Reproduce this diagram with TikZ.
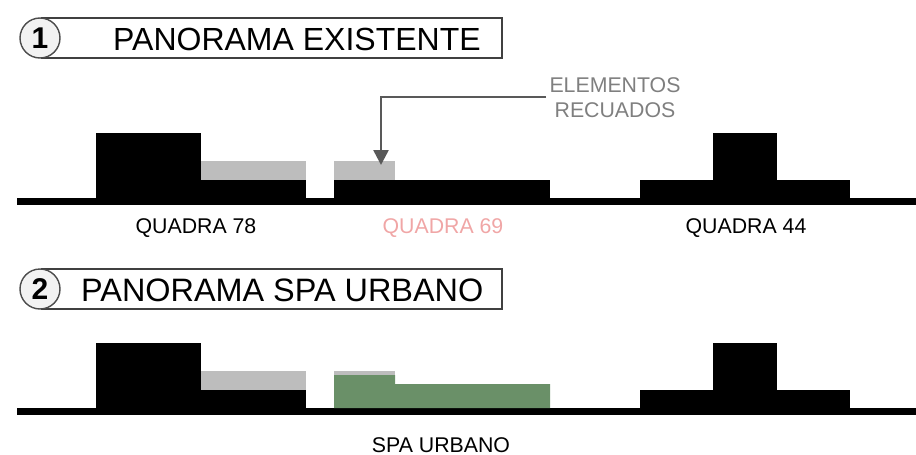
\documentclass[tikz,border=0pt]{standalone}
\usepackage{fontspec}
\setmainfont{Liberation Sans}
\usetikzlibrary{arrows.meta}
\definecolor{lead}{HTML}{595959}
\definecolor{ledtxt}{HTML}{7F7F7F}
\definecolor{recess}{HTML}{BDBDBD}
\definecolor{spagreen}{HTML}{6A9068}
\definecolor{pinktxt}{HTML}{F0A6A6}
\tikzset{
  x=1pt,y=-1pt,
  mass/.style={fill=black,draw=none},
  recessed/.style={fill=recess,draw=none},
  spa/.style={fill=spagreen,draw=none},
  titlebox/.style={draw=black!75,line width=1.4pt,fill=white},
  numdisc/.style={circle,draw=black!70,line width=1.4pt,fill=black!5,minimum size=40pt,inner sep=0pt,font=\fontsize{30}{30}\selectfont\bfseries},
  titletxt/.style={inner sep=0pt,anchor=base west},
  lbl/.style={font=\fontsize{21.3}{23}\selectfont,inner sep=0pt,anchor=base},
}
\begin{document}
\begin{tikzpicture}
\useasboundingbox (0,0) rectangle (916,455);
% titles
\draw[titlebox] (42,18) rectangle (502,58);
\node[numdisc] (n1) at (40,38) {1};
\node[titletxt,font=\fontsize{32}{33}\selectfont] (t1) at (113,50) {PANORAMA EXISTENTE};
\draw[titlebox] (42,269) rectangle (502,309);
\node[numdisc] (n2) at (40,289) {2};
\node[titletxt,font=\fontsize{32.4}{33}\selectfont] (t2) at (81,301) {PANORAMA SPA URBANO};
% row 1
\fill[recessed] (201,161) rectangle (306,180);
\fill[recessed] (334,161) rectangle (395,180);
\fill[mass] (17,198) rectangle (916,204.5);
\fill[mass] (96,133) rectangle (201,200);
\fill[mass] (201,180) rectangle (306,200);
\fill[mass] (334,180) rectangle (550,200);
\fill[mass] (640,180) rectangle (850,200);
\fill[mass] (713,133) rectangle (777,200);
% row 2
\fill[recessed] (201,371) rectangle (306,390);
\fill[recessed] (334,371) rectangle (395,380);
\fill[mass] (17,408) rectangle (916,414.5);
\fill[mass] (96,343) rectangle (201,410);
\fill[mass] (201,390) rectangle (306,410);
\fill[mass] (640,390) rectangle (850,410);
\fill[mass] (713,343) rectangle (777,410);
\fill[spa] (334,375) -- (395,375) -- (395,384) -- (550,384) -- (550,408) -- (334,408) -- cycle;
% labels
\node[lbl] (q78) at (196,233) {QUADRA 78};
\node[lbl,text=pinktxt] (q69) at (443,233) {QUADRA 69};
\node[lbl] (q44) at (746,233) {QUADRA 44};
\node[lbl] (su) at (441,452) {SPA URBANO};
\node[lbl,text=ledtxt] (le1) at (615,92) {ELEMENTOS};
\node[lbl,text=ledtxt] (le2) at (615,117) {RECUADOS};
% leader
\coordinate (ls) at (546,97);
\coordinate (lk) at (381,97);
\coordinate (lt) at (381,165);
\draw[lead,line width=2.6pt,-{Triangle[length=15pt,width=15pt]}] (ls) -- (lk) -- (lt);
\end{tikzpicture}
\end{document}
